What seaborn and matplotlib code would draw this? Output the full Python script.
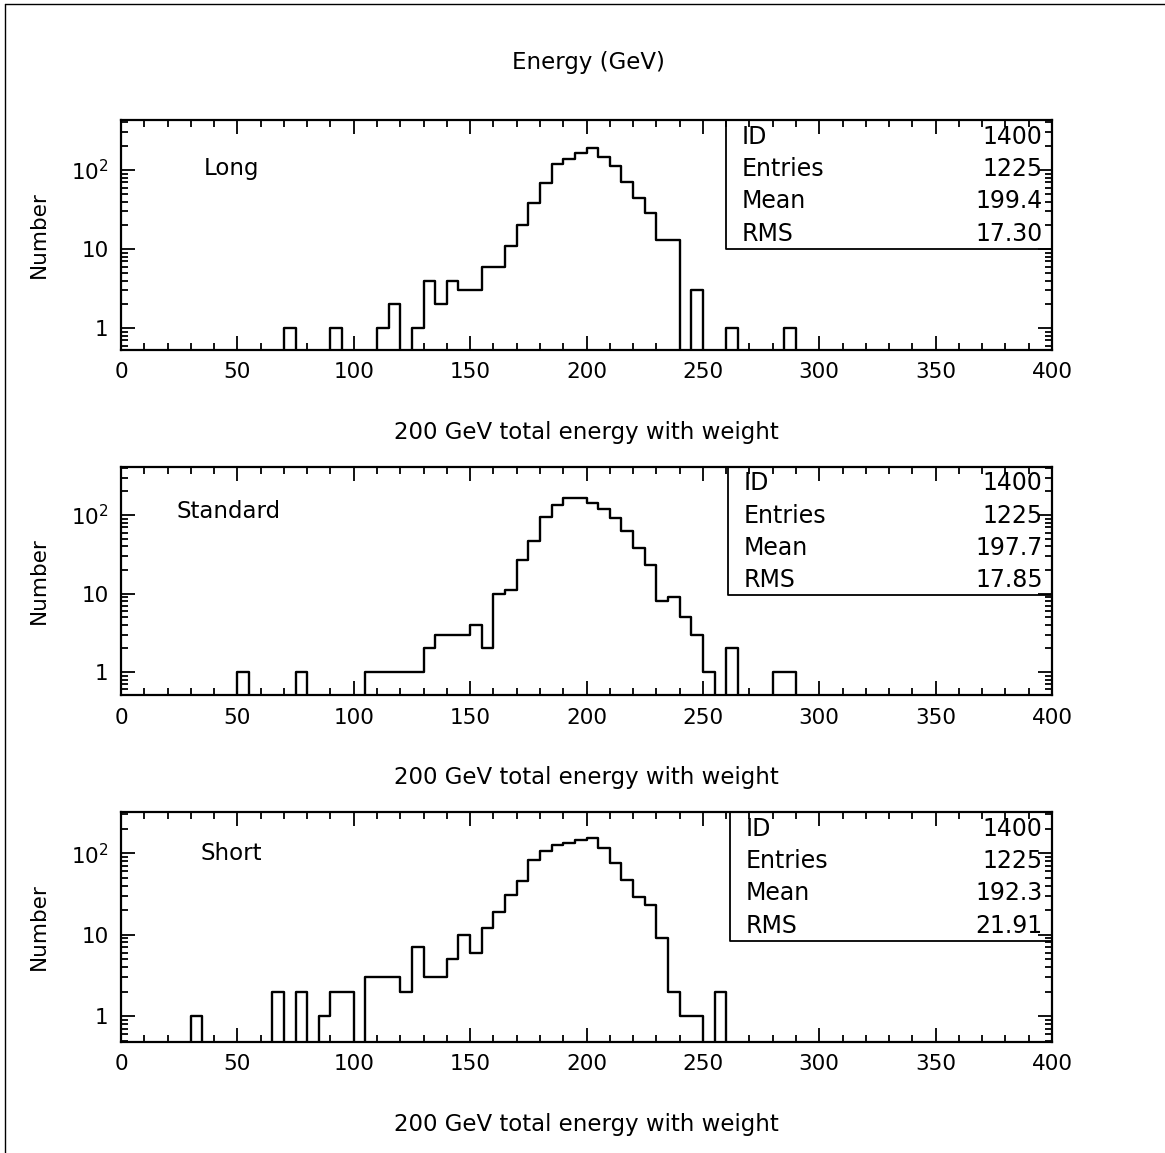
import numpy as np
import pandas as pd
import matplotlib
matplotlib.use("Agg")
import matplotlib.pyplot as plt
import seaborn as sns
from matplotlib.ticker import MultipleLocator, FixedLocator, FixedFormatter, LogLocator, NullFormatter
from matplotlib.lines import Line2D

# 5 GeV bins: lower bin edge (GeV) and number of entries
long_lo = [70, 90, 110, 115, 125, 130, 135, 140, 145, 150, 155, 160, 165, 170, 175,
           180, 185, 190, 195, 200, 205, 210, 215, 220, 225, 230, 235, 245, 260, 285]
long_n = [1, 1, 1, 2, 1, 4, 2, 4, 3, 3, 6, 6, 11, 20, 38,
          68, 121, 140, 166, 190, 147, 112, 71, 44, 29, 13, 13, 3, 1, 1]

std_lo = [50, 75, 105, 110, 115, 120, 125, 130, 135, 140, 145, 150, 155, 160, 165, 170, 175, 180,
          185, 190, 195, 200, 205, 210, 215, 220, 225, 230, 235, 240, 245, 250, 260, 280, 285]
std_n = [1, 1, 1, 1, 1, 1, 1, 2, 3, 3, 3, 4, 2, 10, 11, 27, 47, 95,
         135, 167, 164, 142, 121, 91, 62, 38, 23, 8, 9, 5, 3, 1, 2, 1, 1]

short_lo = [30, 65, 75, 85, 90, 95, 105, 110, 115, 120, 125, 130, 135, 140, 145, 150, 155, 160,
            165, 170, 175, 180, 185, 190, 195, 200, 205, 210, 215, 220, 225, 230, 235, 240, 245, 255]
short_n = [1, 2, 2, 1, 2, 2, 3, 3, 3, 2, 7, 3, 3, 5, 10, 6, 12, 19,
           31, 46, 82, 106, 127, 133, 146, 153, 116, 75, 47, 29, 23, 9, 2, 1, 1, 2]

names = ["Long", "Standard", "Short"]
stat_labels = ["ID", "Entries", "Mean", "RMS"]
stat_values = [["1400", "1225", "199.4", "17.30"],
               ["1400", "1225", "197.7", "17.85"],
               ["1400", "1225", "192.3", "21.91"]]
ytick_labels = ["1", "10", r"10$^{2}$"]
xlabel = "200 GeV total energy with weight"
title = "Energy (GeV)"

sns.set_style("ticks")
plt.rcParams["font.family"] = ["DejaVu Sans"]
plt.rcParams["mathtext.default"] = "regular"
for key in ["text.color", "axes.labelcolor", "xtick.color", "ytick.color", "axes.edgecolor"]:
    plt.rcParams[key] = "black"

W, H = 1165, 1153
fig = plt.figure(figsize=(W / 100, H / 100), dpi=100)

# axes boxes in pixels: (top, bottom)
boxes = [(120, 350), (467, 695), (812, 1042)]
ylims = [(0.53, 430), (0.51, 410), (0.48, 320)]
name_x = [0.089, 0.060, 0.085]
stat_box_left = [0.650, 0.652, 0.654]
data = [(long_lo, long_n), (std_lo, std_n), (short_lo, short_n)]

for i, ((top, bot), (lo, n)) in enumerate(zip(boxes, data)):
    ax = fig.add_axes([121 / W, 1 - bot / H, (1052 - 121) / W, (bot - top) / H])
    df = pd.DataFrame({"energy": np.array(lo) + 2.5, "n": n})
    sns.histplot(data=df, x="energy", weights="n", binwidth=5, binrange=(0, 400),
                 element="step", fill=False, color="black", linewidth=1.7, ax=ax)
    ax.set_yscale("log")
    ax.set_xlim(0, 400)
    ax.set_ylim(*ylims[i])

    ax.xaxis.set_major_locator(MultipleLocator(50))
    ax.xaxis.set_minor_locator(MultipleLocator(10))
    ax.yaxis.set_major_locator(FixedLocator([1, 10, 100]))
    ax.yaxis.set_major_formatter(FixedFormatter(ytick_labels))
    ax.yaxis.set_minor_locator(LogLocator(base=10, subs=np.arange(2, 10)))
    ax.yaxis.set_minor_formatter(NullFormatter())
    ax.tick_params(which="both", direction="in", top=True, right=True, width=1.3, labelsize=15.5)
    ax.tick_params(which="major", length=10, pad=9)
    ax.tick_params(which="minor", length=5)
    for sp in ax.spines.values():
        sp.set_linewidth(1.6)

    ax.set_ylabel("Number", fontsize=15.5, labelpad=16)
    ax.set_xlabel(xlabel, fontsize=16.5, labelpad=28)

    ax.text(name_x[i], 0.79 + 0.015 * i, names[i], transform=ax.transAxes,
            fontsize=16.5, ha="left", va="center")

    # statistics box in the upper right corner
    bx = stat_box_left[i]
    ax.plot([bx, bx, 1], [1, 0.437, 0.437], transform=ax.transAxes, color="black", lw=1.3)
    for lab, val, yy in zip(stat_labels, stat_values[i], [0.928, 0.785, 0.646, 0.505]):
        ax.text(bx + 0.017, yy, lab, transform=ax.transAxes, fontsize=17, ha="left", va="center")
        ax.text(0.99, yy, val, transform=ax.transAxes, fontsize=17, ha="right", va="center")

fig.text(588 / W, 1 - 62 / H, title, fontsize=16.5, ha="center", va="center")

# page frame on the left and top
fig.add_artist(Line2D([5 / W, 5 / W], [0, 1 - 4 / H], transform=fig.transFigure, color="black", lw=1))
fig.add_artist(Line2D([5 / W, 1], [1 - 4 / H, 1 - 4 / H], transform=fig.transFigure, color="black", lw=1))

fig.savefig("out.png", dpi=100)
